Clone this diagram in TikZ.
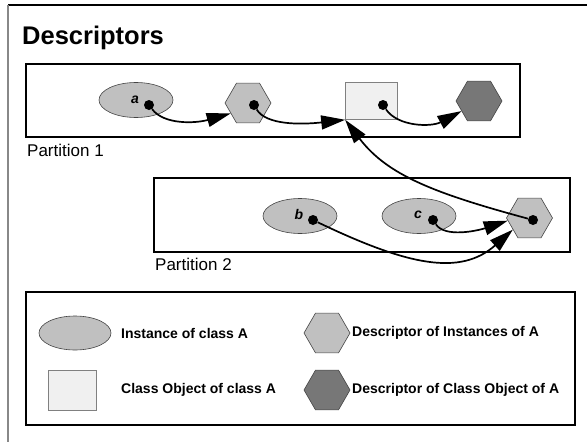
\documentclass[tikz,border=0pt]{standalone}
\usepackage{fontspec}
\setmainfont{Liberation Sans}
\usetikzlibrary{shapes.geometric,arrows.meta}
\definecolor{shapegray}{HTML}{C0C0C0}
\definecolor{darkhex}{HTML}{777777}
\definecolor{classfill}{HTML}{F0F0F0}
\definecolor{edgegray}{HTML}{444444}
\definecolor{framegray}{HTML}{888888}
\begin{document}
\begin{tikzpicture}[x=1pt,y=-1pt,
  partbox/.style={draw=black, line width=1.6pt, inner sep=0pt},
  inst/.style={ellipse, draw=edgegray, line width=0.6pt, fill=shapegray,
    minimum width=74pt, minimum height=35pt, inner sep=0pt},
  desc/.style={regular polygon, regular polygon sides=6, minimum size=46pt,
    inner sep=0pt, draw=edgegray, line width=0.6pt, fill=shapegray},
  classdesc/.style={desc, fill=darkhex},
  classobj/.style={rectangle, draw=gray, line width=0.6pt, fill=classfill,
    minimum width=52pt, minimum height=37pt, inner sep=0pt},
  dot/.style={circle, fill=black, minimum size=10pt, inner sep=0pt},
  ref/.style={line width=1.7pt, -{Triangle[length=24pt,width=14pt]}},
  var/.style={font=\bfseries\itshape\fontsize{14}{14}\selectfont, inner sep=0pt},
  legtext/.style={anchor=west, font=\bfseries\fontsize{14}{16}\selectfont, inner sep=0pt},
  plabel/.style={anchor=base west, font=\fontsize{17}{18}\selectfont, inner sep=0pt}
]
\useasboundingbox (0,0) rectangle (587,442);

% page frame: top rule and left rule
\draw[black, line width=1.5pt] (8,5) -- (587,5);
\draw[framegray, line width=1.5pt] (8,5) -- (8,442);

\node[anchor=base west, font=\bfseries\fontsize{25.5}{27}\selectfont, inner sep=0pt]
  (title) at (22,44) {Descriptors};

% Partition 1
\node[partbox, minimum width=494pt, minimum height=73pt] (p1) at (273,100.5) {};
\node[inst] (ea) at (136,100) {};
\node[var] (la) at (135,100) {a};
\node[dot] (da) at (149,105) {};
\node[desc] (h1) at (248,103) {};
\node[dot] (dh1) at (254,105) {};
\node[classobj] (sq) at (371.5,101) {};
\node[dot] (dsq) at (383,105) {};
\node[classdesc] (h2) at (479,101) {};
\node[plabel] (p1lab) at (27,156) {Partition 1};

% Partition 2
\node[partbox, minimum width=416pt, minimum height=74pt] (p2) at (362,215) {};
\node[inst] (eb) at (300,216) {};
\node[var] (lb) at (299,214) {b};
\node[dot] (db) at (313,220) {};
\node[inst] (ec) at (419,216) {};
\node[var] (lc) at (418,215) {c};
\node[dot] (dc) at (433,220) {};
\node[desc] (h3) at (529.5,218) {};
\node[dot] (dh3) at (533,220) {};
\node[plabel] (p2lab) at (155,270) {Partition 2};

% references
\draw[ref] (da) .. controls +(15,20) and +(-35,10) .. (h1.211);
\draw[ref] (dh1) .. controls +(12,20) and +(-45,5) .. (sq.south west);
\draw[ref] (dsq) .. controls +(15,22) and +(-30,16) .. (h2.210);
\draw[ref] (dh3) .. controls +(-100,-27) and +(42,55) .. (sq.south west);
\draw[ref] (dc) .. controls +(12,18) and +(-30,10) .. (h3.187);
\draw[ref] (db) .. controls +(94,45) and +(-53,47) .. (h3.215);

% legend
\node[draw=black, line width=1.5pt, minimum width=549pt, minimum height=133pt,
  inner sep=0pt] (leg) at (300.5,358.5) {};
\node[inst, minimum width=72pt, minimum height=34pt] (lgi) at (75,333) {};
\node[legtext] (lgit) at (121,333) {Instance of class A};
\node[desc] (lgd) at (327,333) {};
\node[legtext] (lgdt) at (352,333) {Descriptor of Instances of A};
\node[classobj, minimum width=48pt, minimum height=40pt] (lgc) at (72,390) {};
\node[legtext] (lgct) at (121,390) {Class Object of class A};
\node[classdesc] (lgcd) at (327,390) {};
\node[legtext] (lgcdt) at (352,390) {Descriptor of Class Object of A};
\end{tikzpicture}
\end{document}
